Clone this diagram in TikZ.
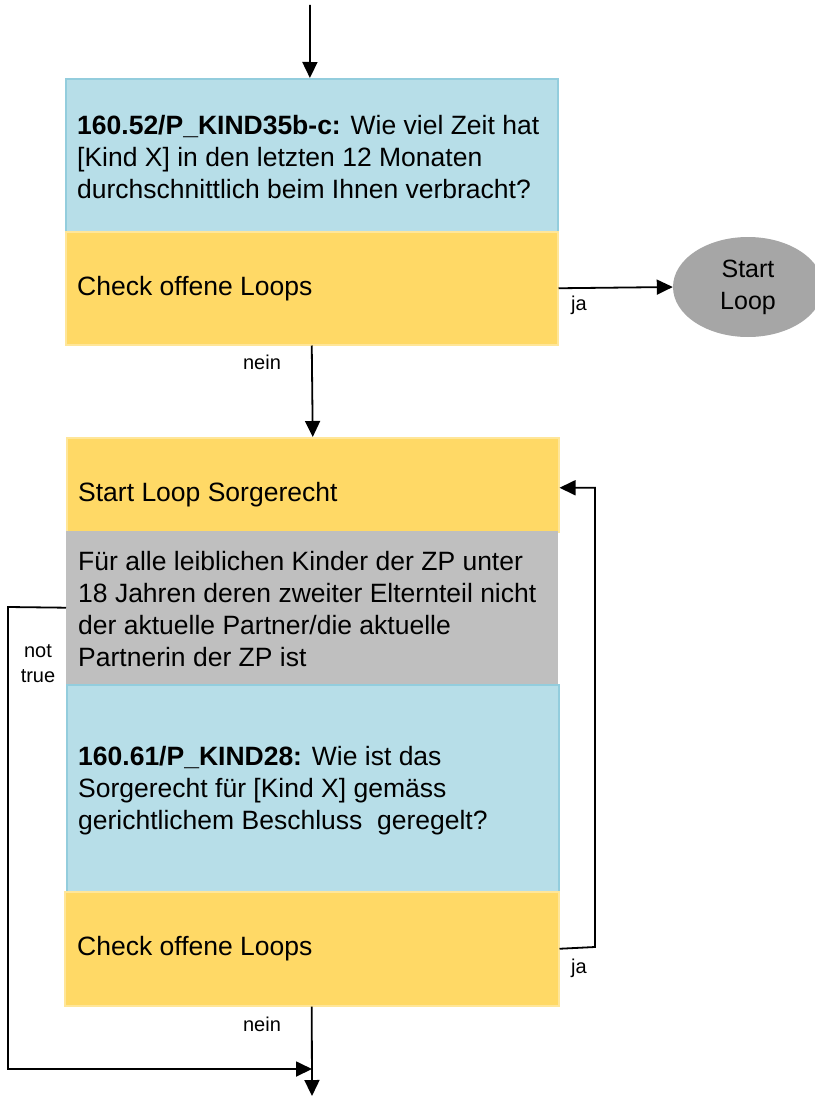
\documentclass[tikz,border=0pt]{standalone}
\usepackage{fontspec}
\setmainfont{Liberation Sans}
\usetikzlibrary{arrows.meta,shapes.geometric}
\definecolor{qblue}{HTML}{B7DEE8}
\definecolor{qblueline}{HTML}{93CDDD}
\definecolor{lyellow}{HTML}{FFD966}
\definecolor{lyellowline}{HTML}{FFE699}
\definecolor{cgrey}{HTML}{BFBFBF}
\definecolor{egrey}{HTML}{A6A6A6}
\begin{document}
\begin{tikzpicture}[x=1pt,y=-1pt,
  bluebox/.style={draw=qblueline,line width=1.8pt,fill=qblue,rectangle,anchor=north west,inner sep=0pt},
  yellowbox/.style={draw=lyellowline,line width=1.5pt,fill=lyellow,rectangle,anchor=north west,inner sep=0pt},
  greybox/.style={fill=cgrey,rectangle,anchor=north west,inner sep=0pt},
  txt/.style={anchor=west,align=left,inner sep=0pt,font=\fontsize{26.5}{32}\selectfont},
  small/.style={align=center,inner sep=0pt,font=\fontsize{20}{25}\selectfont},
  arr/.style={draw=black,line width=1.8pt,-{Triangle[length=16pt,width=15pt]}},
  line/.style={draw=black,line width=1.8pt}]
\useasboundingbox (0,0) rectangle (814,1097);

% boxes
\node[bluebox,minimum width=492pt,minimum height=153pt] (q1) at (65,78) {};
\node[yellowbox,minimum width=492pt,minimum height=113pt] (c1) at (65,231) {};
\node[yellowbox,minimum width=492pt,minimum height=94pt] (s) at (66,437) {};
\node[greybox,minimum width=492pt,minimum height=153pt] (g) at (66,531) {};
\node[bluebox,minimum width=492pt,minimum height=207pt] (q2) at (66,684) {};
\node[yellowbox,minimum width=494pt,minimum height=114pt] (c2) at (64,891) {};

% texts
\node[txt] (q1t) at (77,157) {\textbf{160.52/P\_KIND35b-c:} Wie viel Zeit hat\\\relax [Kind X] in den letzten 12 Monaten\\durchschnittlich beim Ihnen verbracht?};
\node[txt] (c1t) at (77,289) {Check offene Loops};
\node[txt] (st) at (78,495) {Start Loop Sorgerecht};
\node[txt] (gt) at (78,609) {Für alle leiblichen Kinder der ZP unter\\18 Jahren deren zweiter Elternteil nicht\\der aktuelle Partner/die aktuelle\\Partnerin der ZP ist};
\node[txt] (q2t) at (78,791) {\textbf{160.61/P\_KIND28:} Wie ist das\\Sorgerecht für [Kind X] gemäss\\gerichtlichem Beschluss~ geregelt?};
\node[txt] (c2t) at (77,949) {Check offene Loops};

% ellipse
\node[ellipse,fill=egrey,minimum width=150pt,minimum height=100pt,inner sep=0pt,align=center,font=\fontsize{25}{32}\selectfont] (sl) at (748,287) {Start\\Loop};

% coordinates
\coordinate (top) at (310,5);
\coordinate (join) at (312,1069);
\coordinate (bottom) at (312,1096);

% connectors
\draw[arr] (top) -- ([xshift=-2pt]q1.north);
\draw[arr] (c1.east) -- (sl.west);
\node[small] (ja1) at (579,305) {ja};
\draw[arr] (c1.south) -- (s.north);
\node[small] (nein1) at (262,362) {nein};
\draw[arr] (c2.east) -- (595,947) |- ([yshift=-3pt]s.east);
\node[small] (ja2) at (579,968) {ja};
\draw[arr] (g.west) -- (8,607) |- (join);
\node[small] (nt) at (38,664) {not\\true};
\draw[arr] (c2.south) -- (bottom);
\node[small] (nein2) at (262,1024) {nein};
\end{tikzpicture}
\end{document}
